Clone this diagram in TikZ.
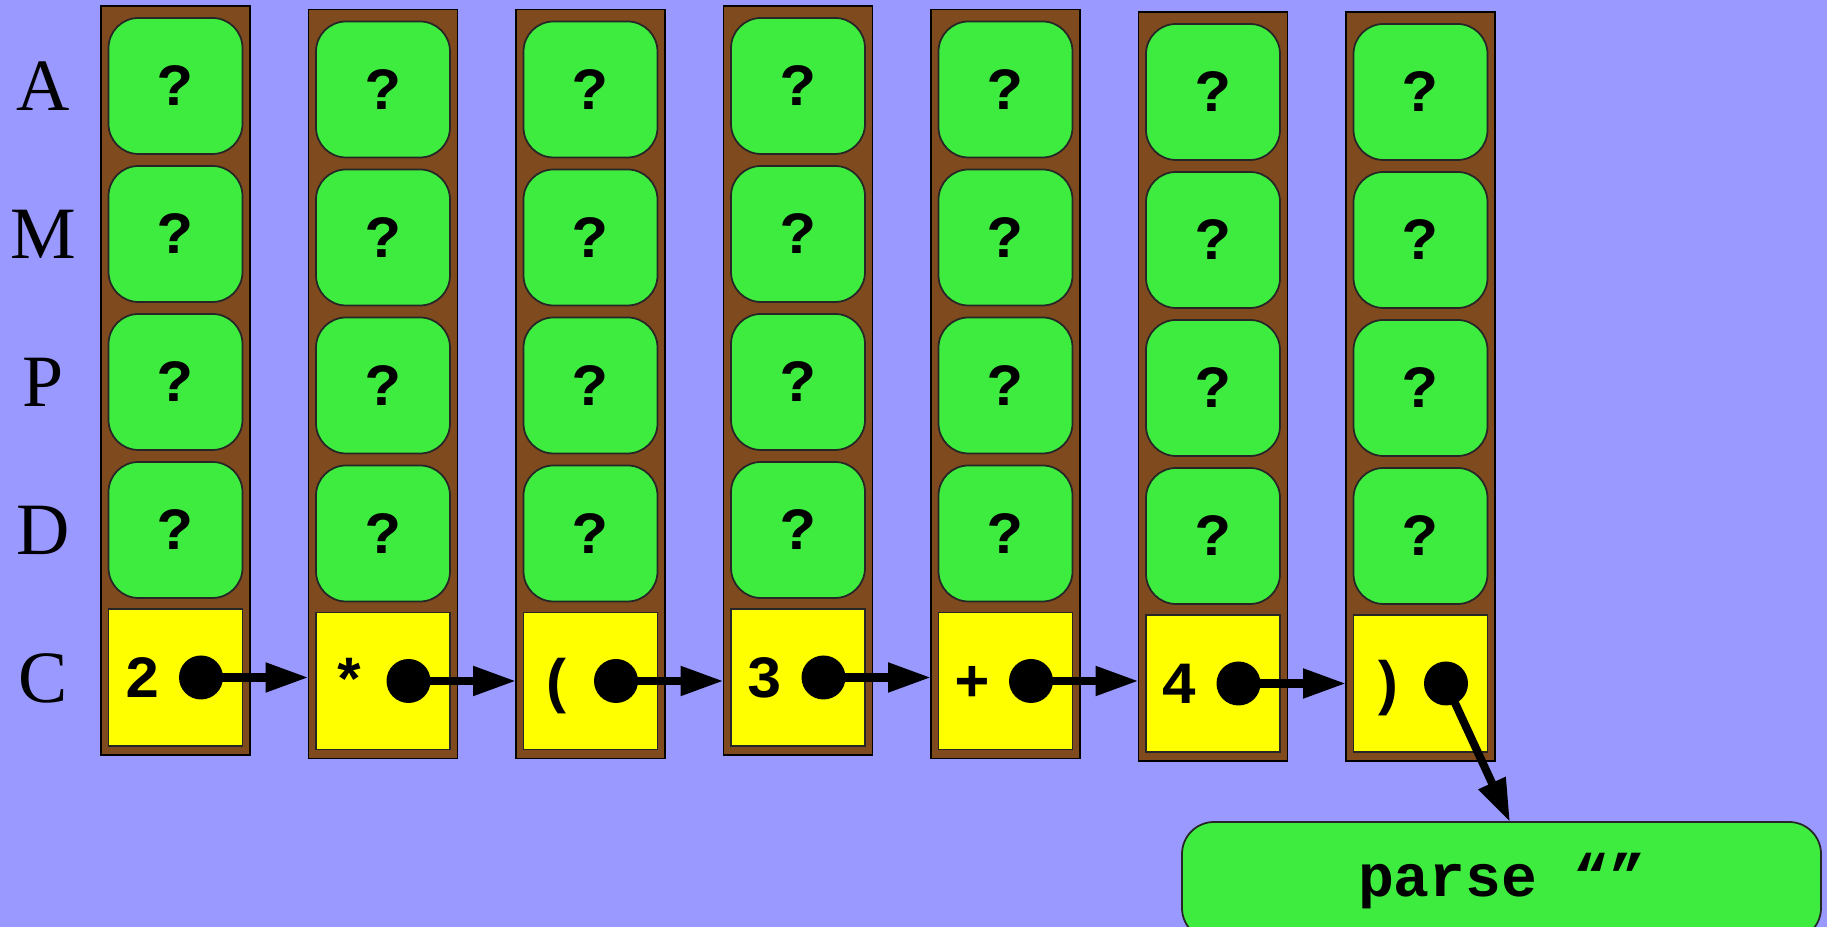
\documentclass[tikz,border=0pt]{standalone}
\usepackage{fontspec}
\setmainfont{Liberation Serif}
\newfontfamily\codefont{Liberation Mono}
\usetikzlibrary{arrows.meta,positioning}
\definecolor{backdrop}{HTML}{9999FF}
\definecolor{wood}{HTML}{7F4B1E}
\definecolor{leaf}{HTML}{3EEC3F}
\definecolor{slotfill}{HTML}{FFFF00}

\begin{document}
\begin{tikzpicture}[
    x=1cm,
    y=1cm,
    >={Triangle[length=4.3mm,width=2.8mm]},
    link/.style={-{Triangle[length=4.3mm,width=2.8mm]}, draw=black, line width=2.3pt},
    column/.style={
        draw=black,
        fill=wood,
        line width=0.5pt,
        minimum width=1.49cm,
        minimum height=7.49cm,
        inner sep=0pt,
        outer sep=0pt
    },
    cell/.style={
        draw=black!85,
        fill=leaf,
        rounded corners=0.3cm,
        line width=0.5pt,
        minimum width=1.34cm,
        minimum height=1.36cm,
        inner sep=0pt,
        outer sep=0pt,
        font=\codefont\bfseries\fontsize{17}{20}\selectfont
    },
    slot/.style={
        draw=black!85,
        fill=slotfill,
        line width=0.5pt,
        minimum width=1.34cm,
        minimum height=1.37cm,
        inner sep=0pt,
        outer sep=0pt
    },
    token/.style={anchor=base, inner sep=0pt, font=\codefont\bfseries\fontsize{17}{20}\selectfont},
    dot/.style={circle, fill=black, minimum size=0.44cm, inner sep=0pt},
    rowlabel/.style={inner sep=0pt, font=\fontsize{21}{24}\selectfont},
    callbox/.style={
        draw=black!85,
        fill=leaf,
        rounded corners=0.32cm,
        line width=0.5pt,
        minimum width=6.39cm,
        minimum height=1.18cm,
        inner sep=0pt,
        outer sep=0pt,
        font=\codefont\bfseries\fontsize{17}{20}\selectfont
    }
]

% Page and background.
\useasboundingbox (0,0) rectangle (18.27,9.27);
\fill[backdrop] (0,0) rectangle (18.27,9.27);

% Row names.
\node[rowlabel] (rowA) at (0.43,8.41) {A};
\node[rowlabel] (rowM) at (0.43,6.93) {M};
\node[rowlabel] (rowP) at (0.43,5.45) {P};
\node[rowlabel] (rowD) at (0.43,3.97) {D};
\node[rowlabel] (rowC) at (0.43,2.49) {C};

% Column 1: token 2.
\node[column] (col1) at (1.755,5.465) {};
\node[cell, below=0.12cm of col1.north] (a1) {?};
\node[cell, below=0.12cm of a1] (m1) {?};
\node[cell, below=0.12cm of m1] (p1) {?};
\node[cell, below=0.12cm of p1] (d1) {?};
\node[slot, below=0.11cm of d1] (c1) {};
\node[token] (t1) at ([shift={(-0.335,-0.205)}]c1.center) {2};
\node[dot] (o1) at ([xshift=0.255cm]c1.center) {};

% Column 2: token *.
\node[column] (col2) at (3.83,5.43) {};
\node[cell, below=0.12cm of col2.north] (a2) {?};
\node[cell, below=0.12cm of a2] (m2) {?};
\node[cell, below=0.12cm of m2] (p2) {?};
\node[cell, below=0.12cm of p2] (d2) {?};
\node[slot, below=0.11cm of d2] (c2) {};
\node[token] (t2) at ([shift={(-0.335,-0.205)}]c2.center) {*};
\node[dot] (o2) at ([xshift=0.255cm]c2.center) {};

% Column 3: token (.
\node[column] (col3) at (5.905,5.43) {};
\node[cell, below=0.12cm of col3.north] (a3) {?};
\node[cell, below=0.12cm of a3] (m3) {?};
\node[cell, below=0.12cm of m3] (p3) {?};
\node[cell, below=0.12cm of p3] (d3) {?};
\node[slot, below=0.11cm of d3] (c3) {};
\node[token] (t3) at ([shift={(-0.335,-0.205)}]c3.center) {(};
\node[dot] (o3) at ([xshift=0.255cm]c3.center) {};

% Column 4: token 3.
\node[column] (col4) at (7.98,5.465) {};
\node[cell, below=0.12cm of col4.north] (a4) {?};
\node[cell, below=0.12cm of a4] (m4) {?};
\node[cell, below=0.12cm of m4] (p4) {?};
\node[cell, below=0.12cm of p4] (d4) {?};
\node[slot, below=0.11cm of d4] (c4) {};
\node[token] (t4) at ([shift={(-0.335,-0.205)}]c4.center) {3};
\node[dot] (o4) at ([xshift=0.255cm]c4.center) {};

% Column 5: token +.
\node[column] (col5) at (10.055,5.43) {};
\node[cell, below=0.12cm of col5.north] (a5) {?};
\node[cell, below=0.12cm of a5] (m5) {?};
\node[cell, below=0.12cm of m5] (p5) {?};
\node[cell, below=0.12cm of p5] (d5) {?};
\node[slot, below=0.11cm of d5] (c5) {};
\node[token] (t5) at ([shift={(-0.335,-0.205)}]c5.center) {+};
\node[dot] (o5) at ([xshift=0.255cm]c5.center) {};

% Column 6: token 4.
\node[column] (col6) at (12.13,5.405) {};
\node[cell, below=0.12cm of col6.north] (a6) {?};
\node[cell, below=0.12cm of a6] (m6) {?};
\node[cell, below=0.12cm of m6] (p6) {?};
\node[cell, below=0.12cm of p6] (d6) {?};
\node[slot, below=0.11cm of d6] (c6) {};
\node[token] (t6) at ([shift={(-0.335,-0.205)}]c6.center) {4};
\node[dot] (o6) at ([xshift=0.255cm]c6.center) {};

% Column 7: token ).
\node[column] (col7) at (14.205,5.405) {};
\node[cell, below=0.12cm of col7.north] (a7) {?};
\node[cell, below=0.12cm of a7] (m7) {?};
\node[cell, below=0.12cm of m7] (p7) {?};
\node[cell, below=0.12cm of p7] (d7) {?};
\node[slot, below=0.11cm of d7] (c7) {};
\node[token] (t7) at ([shift={(-0.335,-0.205)}]c7.center) {)};
\node[dot] (o7) at ([xshift=0.255cm]c7.center) {};

% The call that receives the rest of the input.
\node[callbox] (parse) at (15.015,0.46) {parse “”};

% Links between the columns.
\draw[link] (o1.center) -- (o1 -| col2.west);
\draw[link] (o2.center) -- (o2 -| col3.west);
\draw[link] (o3.center) -- (o3 -| col4.west);
\draw[link] (o4.center) -- (o4 -| col5.west);
\draw[link] (o5.center) -- (o5 -| col6.west);
\draw[link] (o6.center) -- (o6 -| col7.west);
\draw[link] (o7.center) -- ([xshift=0.085cm]parse.north);

\end{tikzpicture}
\end{document}
